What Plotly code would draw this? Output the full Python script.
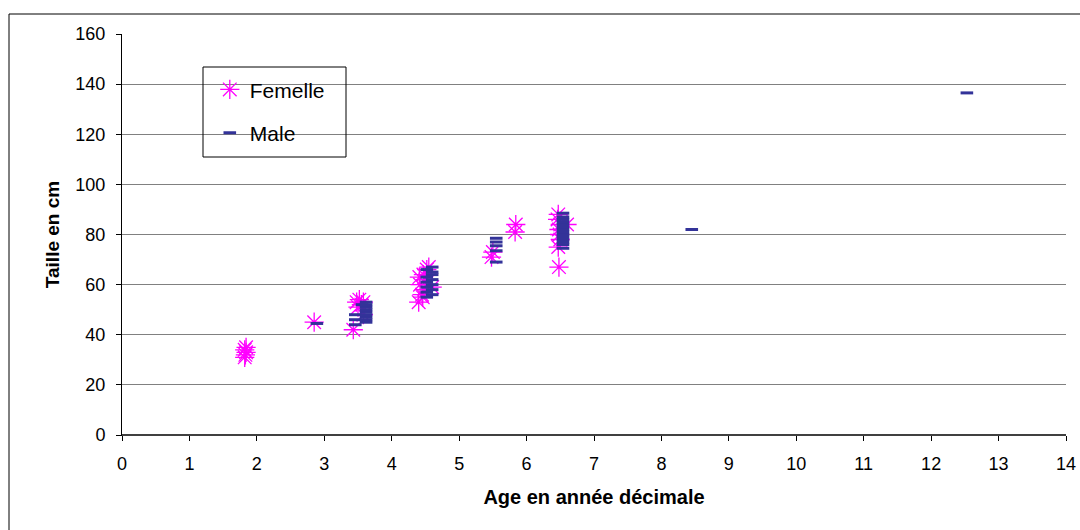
import plotly.graph_objects as go

# Femelle (female) measurements: age in decimal years, height in cm
fem_age = [1.82, 1.83, 1.84, 1.82, 1.84,
           2.85,
           3.43, 3.48, 3.52, 3.55, 3.58, 3.50, 3.58,
           4.40, 4.42, 4.41, 4.45, 4.48, 4.50, 4.47, 4.52, 4.55, 4.46, 4.60,
           5.48, 5.50,
           5.83, 5.84,
           6.48, 6.47, 6.50, 6.49, 6.48, 6.50, 6.46, 6.47, 6.60]
fem_h = [31, 32, 33, 34, 35,
         45,
         42, 53, 54, 52, 53, 51, 48,
         53, 60, 63, 56, 58, 62, 64, 66, 67, 55, 59,
         71, 73,
         81, 84,
         67, 75, 78, 80, 82, 84, 86, 88, 84]

# Male measurements
male_age = [2.89,
            3.46, 3.46, 3.46, 3.56,
            3.62, 3.62, 3.62, 3.62, 3.62, 3.62, 3.62, 3.62, 3.62,
            4.52, 4.52, 4.52, 4.52, 4.52, 4.52, 4.60, 4.60, 4.60, 4.60, 4.60, 4.60, 4.60,
            5.55, 5.55, 5.55, 5.55, 5.55,
            6.54, 6.54, 6.54, 6.54, 6.54, 6.54, 6.54, 6.54, 6.54, 6.54, 6.54, 6.54, 6.54, 6.54,
            8.45,
            12.53]
male_h = [44.5,
          44, 46, 48, 52,
          45, 46, 47, 48, 49, 50, 51, 52, 53,
          55, 57, 59, 61, 63, 66, 56, 58, 60, 62, 64, 65, 67,
          69, 73.5, 75.5, 77, 78.5,
          74.5, 76, 77, 78, 79, 80, 81, 82, 83, 84, 85, 86, 87, 88.5,
          82,
          136.5]

x_ticks = list(range(0, 15))
y_ticks = list(range(0, 161, 20))

FONT = "Liberation Sans, Arial, sans-serif"

fig = go.Figure()
fig.add_trace(go.Scatter(
    x=fem_age, y=fem_h, mode="markers", name="Femelle", legendgroup="f",
    marker=dict(symbol="asterisk-open", size=16, color="#FF00FF",
                line=dict(color="#FF00FF", width=1.3)),
))
fig.add_trace(go.Scatter(
    x=male_age, y=male_h, mode="markers", name="Male", legendgroup="m",
    marker=dict(symbol="line-ew-open", size=9, color="#333399",
                line=dict(color="#333399", width=3)),
))

fig.update_layout(
    width=1080, height=530,
    margin=dict(l=122, r=14, t=34, b=95, autoexpand=False),
    paper_bgcolor="white", plot_bgcolor="white",
    font=dict(family=FONT, size=18, color="black"),
    showlegend=True,
    legend=dict(
        x=0.093, y=0.912, xanchor="left", yanchor="top",
        bgcolor="rgba(0,0,0,0)", borderwidth=0,
        font=dict(family=FONT, size=21, color="black"),
        traceorder="grouped", tracegroupgap=13,
    ),
    xaxis=dict(
        range=[0, 14], tickvals=x_ticks, ticktext=[str(v) for v in x_ticks],
        automargin=False,
        showgrid=False, zeroline=False,
        showline=True, linecolor="black", linewidth=1,
        ticks="outside", ticklen=5, tickcolor="black",
        ticklabelstandoff=7,
        tickfont=dict(family=FONT, size=18),
        title=dict(text="<b>Age en année décimale</b>",
                   font=dict(family=FONT, size=20), standoff=17),
    ),
    yaxis=dict(
        range=[0, 160], tickvals=y_ticks,
        automargin=False,
        showgrid=True, gridcolor="#808080", gridwidth=1,
        zeroline=False,
        showline=True, linecolor="black", linewidth=1,
        ticks="outside", ticklen=5, tickcolor="black",
        ticklabelstandoff=7,
        tickfont=dict(family=FONT, size=18),
        title=dict(text="<b>Taille en cm</b>",
                   font=dict(family=FONT, size=19), standoff=10),
    ),
    shapes=[
        # legend box
        dict(type="rect", xref="paper", yref="paper",
             x0=(203 - 122) / 944, x1=(346 - 122) / 944,
             y0=(435 - 157) / 401, y1=(435 - 67) / 401,
             line=dict(color="black", width=1), fillcolor="rgba(0,0,0,0)",
             layer="above"),
        # bottom axis line (darker)
        dict(type="line", xref="paper", yref="paper", x0=0, x1=1, y0=0, y1=0,
             line=dict(color="#404040", width=2)),
        # outer chart frame
        dict(type="rect", xref="paper", yref="paper",
             x0=(9 - 122) / 944, x1=1.1, y0=(435 - 540) / 401, y1=(435 - 14) / 401,
             line=dict(color="black", width=1), fillcolor="rgba(0,0,0,0)"),
    ],
)

fig.write_html("out.html",
               config={"displayModeBar": False},
               post_script="document.body.style.margin='0';document.body.style.padding='0';")
